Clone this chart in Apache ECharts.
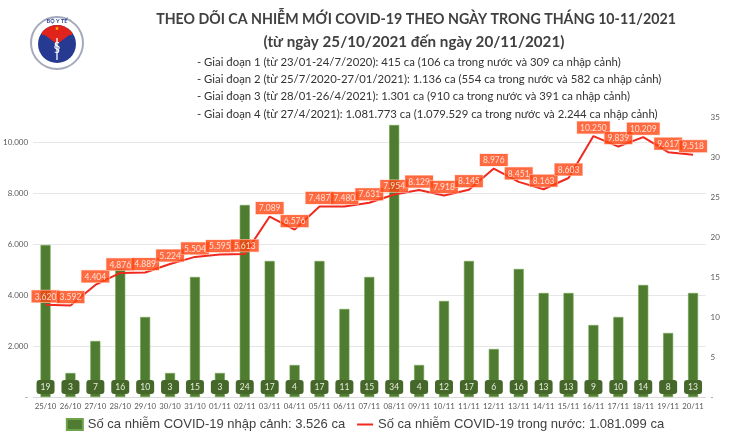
<!DOCTYPE html>
<html><head><meta charset="utf-8">
<script src="https://cdn.jsdelivr.net/npm/echarts@6/dist/echarts.min.js"></script>
<style>html,body{margin:0;padding:0;background:#fff}#c{width:730px;height:436px}</style>
</head><body><div id="c"></div>
<script>
const categories = ['25/10','26/10','27/10','28/10','29/10','30/10','31/10','01/11','02/11','03/11','04/11','05/11','06/11','07/11','08/11','09/11','10/11','11/11','12/11','13/11','14/11','15/11','16/11','17/11','18/11','19/11','20/11'];
const importedCases = [19,3,7,16,10,3,15,3,24,17,4,17,11,15,34,4,12,17,6,16,13,13,9,10,14,8,13];
const domesticCases = [3620,3592,4404,4876,4889,5224,5504,5595,5613,7089,6576,7487,7480,7631,7954,8129,7918,8145,8976,8451,8163,8603,10250,9839,10209,9617,9518];
const titleLines = ['THEO DÕI CA NHIỄM MỚI COVID-19 THEO NGÀY TRONG THÁNG 10-11/2021','(từ ngày 25/10/2021 đến ngày 20/11/2021)'];
const noteLines = [
  '- Giai đoạn 1 (từ 23/01-24/7/2020): 415 ca (106 ca trong nước và 309 ca nhập cảnh)',
  '- Giai đoạn 2 (từ 25/7/2020-27/01/2021): 1.136 ca (554 ca trong nước và 582 ca nhập cảnh)',
  '- Giai đoạn 3 (từ 28/01-26/4/2021): 1.301 ca (910 ca trong nước và 391 ca nhập cảnh)',
  '- Giai đoạn 4 (từ 27/4/2021): 1.081.773 ca (1.079.529 ca trong nước và 2.244 ca nhập cảnh)'
];
const seriesNames = ['Số ca nhiễm COVID-19 nhập cảnh: 3.526 ca','Số ca nhiễm COVID-19 trong nước: 1.081.099 ca'];

function fmt(v){ if(v===0) return '-'; return String(v).replace(/\B(?=(\d{3})+(?!\d))/g,'.'); }

const chart = echarts.init(document.getElementById('c'));
const noteGraphics = noteLines.map((t,i)=>({
  type:'text', x:197, y:62+i*17.3,
  style:{text:t, font:'11.35px Lato', fill:'#333', verticalAlign:'middle'}
}));
const titleGraphics = [
  {type:'text', x:416, y:19, style:{text:titleLines[0], font:'bold 14.2px Lato', fill:'#404040', align:'center', verticalAlign:'middle'}},
  {type:'text', x:414, y:42, style:{text:titleLines[1], font:'bold 15.2px Lato', fill:'#404040', align:'center', verticalAlign:'middle'}}
];
const logo = {
  type:'group', x:31, y:17,
  children:[
    {type:'circle', shape:{cx:26,cy:26,r:26}, style:{fill:'#fff', stroke:'#a4a9bb', lineWidth:2}},
    {type:'circle', shape:{cx:26,cy:27,r:19}, style:{fill:'#263a92'}},
    {type:'sector', shape:{cx:26,cy:27,r:19,r0:0,startAngle:Math.PI*1.2,endAngle:Math.PI*1.8}, style:{fill:'#e0241b'}},
    {type:'rect', shape:{x:11,y:15,width:30,height:3}, style:{fill:'#e0241b'}},
    {type:'text', x:26, y:1, style:{text:'BỘ Y TẾ', font:'bold 5.5px Lato', fill:'#263a92', align:'center'}},
    {type:'text', x:26, y:9, style:{text:'★', font:'5px DejaVu Sans', fill:'#ffd200', align:'center'}},
    {type:'line', shape:{x1:26,y1:21,x2:26,y2:43}, style:{stroke:'#fff', lineWidth:1.3}},
    {type:'text', x:26, y:24, style:{text:'§', font:'13px DejaVu Sans', fill:'#fff', align:'center'}}
  ]
};

chart.setOption({
  animation:false,
  graphic:[logo].concat(titleGraphics, noteGraphics),
  legend:{
    bottom:0, left:'center', itemGap:12, itemWidth:16, itemHeight:11,
    textStyle:{fontFamily:'Liberation Sans', fontSize:13, color:'#404040'},
    data:[
      {name:seriesNames[0], icon:'rect'},
      {name:seriesNames[1], icon:'path://M0,0L0.01,0M0,4.6L16,4.6L16,6.4L0,6.4ZM16,11L15.99,11'}
    ]
  },
  grid:{left:30, right:24.5, top:117, bottom:39},
  xAxis:{
    type:'category', data:categories,
    axisTick:{show:false},
    axisLine:{lineStyle:{color:'#d9d9d9'}},
    axisLabel:{interval:0, fontFamily:'Lato', fontSize:7.8, color:'#595959', margin:5}
  },
  yAxis:[
    {type:'value', min:0, max:11000, interval:2000,
     axisLabel:{formatter:fmt, showMaxLabel:false, fontFamily:'Lato', fontSize:8, color:'#595959', margin:5},
     splitLine:{showMaxLine:false, lineStyle:{color:'#e6e6e6'}},
     axisLine:{show:false}, axisTick:{show:false}},
    {type:'value', min:0, max:35, interval:5,
     axisLabel:{formatter:fmt, fontFamily:'Lato', fontSize:8, color:'#595959', margin:5},
     splitLine:{show:false}, axisLine:{show:false}, axisTick:{show:false}}
  ],
  series:[
    {name:seriesNames[0], type:'bar', yAxisIndex:1, data:importedCases, barWidth:10,
     itemStyle:{color:'#4f7c30', borderColor:'#6da34a', borderWidth:0.6},
     label:{show:true, position:'insideBottom', distance:3, fontFamily:'Lato', fontSize:8.5,
       color:'#e6eedc', backgroundColor:'#46672a', borderRadius:3, padding:[3,4,2,4], width:10, align:'center'}
    },
    {name:seriesNames[1], type:'line', yAxisIndex:0, data:domesticCases, symbol:'none',
     lineStyle:{color:'#f0281e', width:2}, itemStyle:{color:'#f0281e'}, z:5},
    {name:'labels', type:'scatter', yAxisIndex:0, data:domesticCases, symbolSize:1,
     itemStyle:{color:'rgba(0,0,0,0)'}, z:6, silent:true,
     label:{show:true, position:'top', distance:2, formatter:p=>fmt(p.value), fontFamily:'Lato', fontSize:8.5,
       color:'#fff', backgroundColor:'#ff4510', borderColor:'#ffd0c0', borderWidth:0.6, padding:[2,3,1,3]}
    }
  ]
});
</script></body></html>
